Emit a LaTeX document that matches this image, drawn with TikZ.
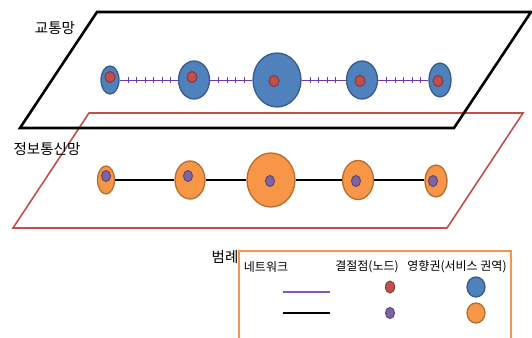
\documentclass[tikz,border=0pt]{standalone}
\usepackage{fontspec}
\setmainfont{Noto Sans CJK KR}
\usetikzlibrary{shapes.geometric,decorations.markings}
\definecolor{blueF}{HTML}{4F81BD}
\definecolor{blueD}{HTML}{385D8A}
\definecolor{redF}{HTML}{C0504D}
\definecolor{redD}{HTML}{8C3836}
\definecolor{orF}{HTML}{F79646}
\definecolor{orD}{HTML}{B66D31}
\definecolor{puF}{HTML}{8064A2}
\definecolor{puD}{HTML}{5C4776}
\definecolor{netP}{HTML}{6A3AB0}
\tikzset{
  ell/.style n args={2}{ellipse, inner sep=0pt, minimum width=#1pt, minimum height=#2pt},
  bluezone/.style={draw=blueD, fill=blueF, line width=1.3pt},
  orzone/.style={draw=orD, fill=orF, line width=1.3pt},
  reddot/.style={draw=redD, fill=redF, line width=1pt},
  pudot/.style={draw=puD, fill=puF, line width=1pt},
  ticked/.style={draw=netP, line width=1pt, decoration={markings,
     mark=between positions 8.5pt and -4pt step 8.5pt with {\draw[netP, line width=0.8pt] (0,-3pt) -- (0,3pt);}},
     postaction={decorate}},
  infoline/.style={draw=black, line width=2.6pt},
  lbl/.style={font=\fontsize{14.5}{16}\selectfont, inner sep=0pt},
  leg/.style={font=\fontsize{12}{14}\selectfont, inner sep=0pt},
}
\begin{document}
\begin{tikzpicture}[x=1pt,y=-1pt]
\useasboundingbox (0,0) rectangle (532,337);
\clip (0,0) rectangle (532,337);
% planes
\draw[redF, line width=1.6pt, line join=miter] (89,113) -- (523,113) -- (447,228) -- (13,228) -- cycle;
\draw[black, line width=2.6pt, line join=miter] (97,12) -- (531,12) -- (454,128) -- (20,128) -- cycle;
% labels
\node[lbl] (ltr) at (55,28) {교통망};
\node[lbl] (linf) at (47,149) {정보통신망};
% top network
\node[ell={18}{28}, bluezone] (t1) at (110,80) {};
\node[ell={31}{38}, bluezone] (t2) at (194,80) {};
\node[ell={48}{54}, bluezone] (t3) at (277,80) {};
\node[ell={31}{38}, bluezone] (t4) at (362,80) {};
\node[ell={22}{34}, bluezone] (t5) at (440,80) {};
\draw[ticked] (t1.east) -- (t2.west);
\draw[ticked] (t2.east) -- (t3.west);
\draw[ticked] (t3.east) -- (t4.west);
\draw[ticked] (t4.east) -- (t5.west);
\node[ell={10}{11}, reddot] (r1) at (110,77) {};
\node[ell={10}{11}, reddot] (r2) at (192,77) {};
\node[ell={10}{11}, reddot] (r3) at (274,81) {};
\node[ell={10}{11}, reddot] (r4) at (360,81) {};
\node[ell={10}{11}, reddot] (r5) at (438,81) {};
% bottom network
\node[ell={17}{28}, orzone] (b1) at (106,180) {};
\node[ell={30}{38}, orzone] (b2) at (190,180) {};
\node[ell={48}{54}, orzone] (b3) at (271,180) {};
\node[ell={31}{39}, orzone] (b4) at (358,180) {};
\node[ell={22}{32}, orzone] (b5) at (436,181) {};
\draw[infoline] (b1.east) -- (b2.west);
\draw[infoline] (b2.east) -- (b3.west);
\draw[infoline] (b3.east) -- (b4.west);
\draw[infoline] (b4.east) -- (b5.west |- b4.east);
\node[ell={9}{11}, pudot] (p1) at (106,176) {};
\node[ell={9}{11}, pudot] (p2) at (188,176) {};
\node[ell={9}{11}, pudot] (p3) at (270,181) {};
\node[ell={9}{11}, pudot] (p4) at (356,181) {};
\node[ell={9}{11}, pudot] (p5) at (433,181) {};
% legend
\draw[orF, line width=1.4pt] (239,345) -- (239,251) -- (511,251) -- (511,345);
\node[lbl] (lgt) at (225,257) {범례};
\node[leg] (lg1) at (266,267) {네트워크};
\node[leg] (lg2) at (367,267) {결절점(노드)};
\node[leg] (lg3) at (457,267) {영향권(서비스 권역)};
\coordinate (pa) at (283,292);
\coordinate (pb) at (330,292);
\coordinate (ka) at (283,313);
\coordinate (kb) at (330,313);
\draw[netP!85, line width=1.3pt] (pa) -- (pb);
\draw[infoline] (ka) -- (kb);
\node[ell={9}{12}, reddot] (lr) at (390,287) {};
\node[ell={9}{11}, pudot] (lp) at (390,313) {};
\node[ell={18}{20}, bluezone] (lb) at (476,287) {};
\node[ell={18}{20}, orzone] (lo) at (476,313) {};
\end{tikzpicture}
\end{document}
